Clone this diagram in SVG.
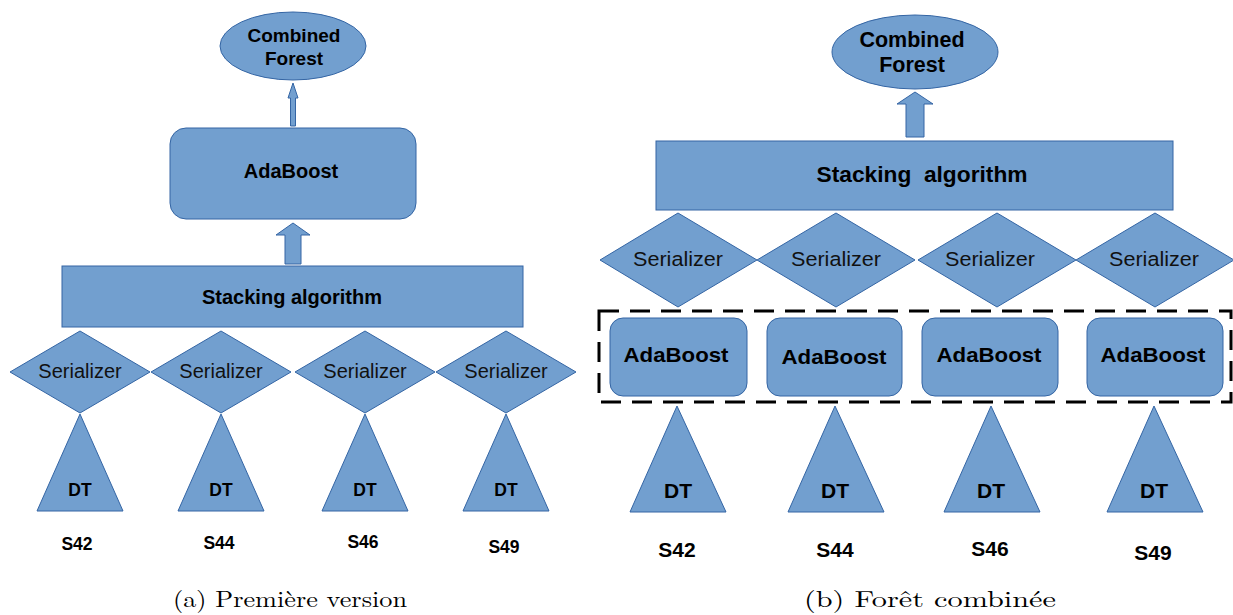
<svg xmlns="http://www.w3.org/2000/svg" width="1233" height="615" viewBox="0 0 1233 615">
<style>
.sh{fill:#729fcf;stroke:#3465a4;stroke-width:1}
.b{font-family:"Liberation Sans",Arial,sans-serif;font-weight:bold;fill:#000;text-anchor:middle}
.r{font-family:"Liberation Sans",Arial,sans-serif;fill:#111;text-anchor:middle}
.cap{font-family:"Latin Modern Roman","Liberation Serif",serif;font-size:23px;fill:#000;text-anchor:middle}
</style>
<rect width="1233" height="615" fill="#fff"/>
<!-- Left panel -->
<g id="a-connectors">
<path class="sh" d="M290.5,126 V98 H288 L293,83 L298,98 H295.5 V126 Z"/>
<path class="sh" d="M285,264 V235 H276 L293,223 L310,235 H301 V264 Z"/>
</g>
<g id="a-forest"><ellipse class="sh" cx="293" cy="46" rx="73" ry="34"/><text class="b" x="294" y="42" font-size="19">Combined</text><text class="b" x="294" y="65" font-size="19">Forest</text></g>
<g id="a-adaboost"><rect class="sh" x="170" y="128" width="246" height="91" rx="16"/><text class="b" x="291" y="178" font-size="20">AdaBoost</text></g>
<g id="a-stacking"><rect class="sh" x="62" y="266" width="461" height="61"/><text class="b" x="292" y="304" font-size="20">Stacking algorithm</text></g>
<g id="a-ser1"><polygon class="sh" points="10,372 80,331 150,372 80,413"/><text class="r" x="80" y="378" font-size="20">Serializer</text></g>
<g id="a-ser2"><polygon class="sh" points="151,372 221,331 291,372 221,413"/><text class="r" x="221" y="378" font-size="20">Serializer</text></g>
<g id="a-ser3"><polygon class="sh" points="295,372 365,331 435,372 365,413"/><text class="r" x="365" y="378" font-size="20">Serializer</text></g>
<g id="a-ser4"><polygon class="sh" points="436,372 506,331 576,372 506,413"/><text class="r" x="506" y="378" font-size="20">Serializer</text></g>
<g id="a-dt1"><polygon class="sh" points="80,414 123,511 37,511"/><text class="b" x="80" y="496" font-size="17.5">DT</text></g>
<g id="a-dt2"><polygon class="sh" points="221,414 264,511 178,511"/><text class="b" x="221" y="496" font-size="17.5">DT</text></g>
<g id="a-dt3"><polygon class="sh" points="365,414 408,511 322,511"/><text class="b" x="365" y="496" font-size="17.5">DT</text></g>
<g id="a-dt4"><polygon class="sh" points="506,414 549,511 463,511"/><text class="b" x="506" y="496" font-size="17.5">DT</text></g>
<g id="a-labels">
<text class="b" x="77" y="550" font-size="17.5">S42</text>
<text class="b" x="219" y="549" font-size="17.5">S44</text>
<text class="b" x="363" y="548" font-size="17.5">S46</text>
<text class="b" x="504" y="553" font-size="17.5">S49</text>
</g>
<text class="cap" x="290" y="607" textLength="234" lengthAdjust="spacingAndGlyphs">(a) Première version</text>
<!-- Right panel -->
<g id="b-connectors">
<path class="sh" d="M906,137 V104 H897 L915,92 L933,104 H924 V137 Z"/>
</g>
<g id="b-forest"><ellipse class="sh" cx="915" cy="52" rx="83" ry="37"/><text class="b" x="912" y="47" font-size="21.5">Combined</text><text class="b" x="912" y="72" font-size="21.5">Forest</text></g>
<g id="b-stacking"><rect class="sh" x="656" y="141" width="517" height="69"/><text class="b" x="922" y="182" font-size="21.5" textLength="211" lengthAdjust="spacingAndGlyphs" xml:space="preserve">Stacking  algorithm</text></g>
<g id="b-ser1"><polygon class="sh" points="600,260 678,213 757,260 678,307"/><text class="r" x="678" y="266" font-size="20.5" textLength="90" lengthAdjust="spacingAndGlyphs">Serializer</text></g>
<g id="b-ser2"><polygon class="sh" points="757,260 836,213 915,260 836,307"/><text class="r" x="836" y="266" font-size="20.5" textLength="90" lengthAdjust="spacingAndGlyphs">Serializer</text></g>
<g id="b-ser3"><polygon class="sh" points="918,260 997,213 1076,260 997,307"/><text class="r" x="990" y="266" font-size="20.5" textLength="90" lengthAdjust="spacingAndGlyphs">Serializer</text></g>
<g id="b-ser4"><polygon class="sh" points="1076,260 1155,213 1234,260 1155,307"/><text class="r" x="1154" y="266" font-size="20.5" textLength="90" lengthAdjust="spacingAndGlyphs">Serializer</text></g>
<g id="b-group"><rect x="599" y="311" width="632" height="91" fill="none" stroke="#000" stroke-width="3" stroke-dasharray="20,11"/></g>
<g id="b-ada1"><rect class="sh" x="610" y="318" width="137" height="78" rx="13"/><text class="b" x="676" y="362" font-size="21" textLength="105" lengthAdjust="spacingAndGlyphs">AdaBoost</text></g>
<g id="b-ada2"><rect class="sh" x="767" y="318" width="135" height="78" rx="13"/><text class="b" x="834" y="364" font-size="21" textLength="105" lengthAdjust="spacingAndGlyphs">AdaBoost</text></g>
<g id="b-ada3"><rect class="sh" x="922" y="318" width="136" height="78" rx="13"/><text class="b" x="989" y="362" font-size="21" textLength="105" lengthAdjust="spacingAndGlyphs">AdaBoost</text></g>
<g id="b-ada4"><rect class="sh" x="1087" y="318" width="136" height="78" rx="13"/><text class="b" x="1153" y="362" font-size="21" textLength="105" lengthAdjust="spacingAndGlyphs">AdaBoost</text></g>
<g id="b-dt1"><polygon class="sh" points="677,406 726,512 630,512"/><text class="b" x="678" y="498" font-size="21">DT</text></g>
<g id="b-dt2"><polygon class="sh" points="835,406 884,512 788,512"/><text class="b" x="835" y="498" font-size="21">DT</text></g>
<g id="b-dt3"><polygon class="sh" points="991,406 1040,512 944,512"/><text class="b" x="991" y="498" font-size="21">DT</text></g>
<g id="b-dt4"><polygon class="sh" points="1154,406 1203,512 1107,512"/><text class="b" x="1154" y="498" font-size="21">DT</text></g>
<g id="b-labels">
<text class="b" x="677" y="557" font-size="21">S42</text>
<text class="b" x="835" y="557" font-size="21">S44</text>
<text class="b" x="990" y="556" font-size="21">S46</text>
<text class="b" x="1153" y="560" font-size="21">S49</text>
</g>
<text class="cap" x="930" y="607" textLength="252" lengthAdjust="spacingAndGlyphs">(b) Forêt combinée</text>
</svg>
